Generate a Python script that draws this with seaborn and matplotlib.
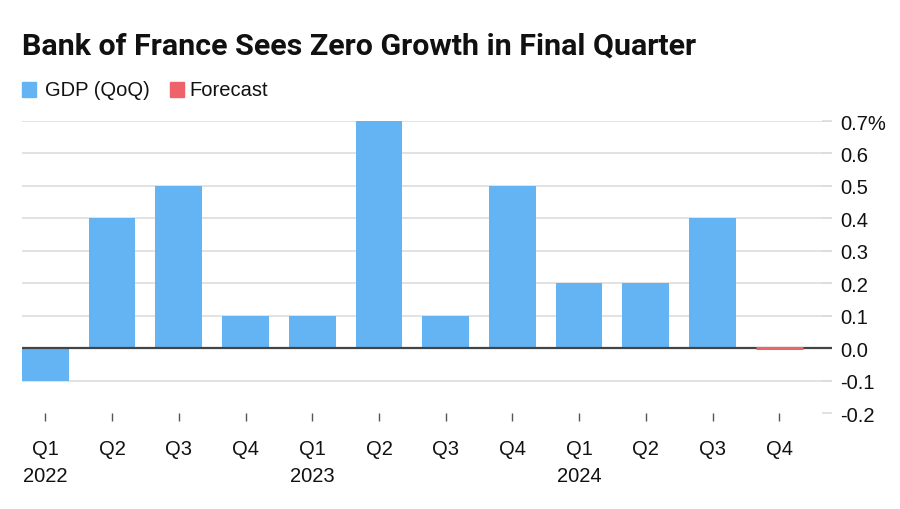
import matplotlib
matplotlib.use("Agg")
import matplotlib.pyplot as plt
import seaborn as sns
import pandas as pd
from matplotlib.patches import Rectangle

quarters = ["Q1", "Q2", "Q3", "Q4", "Q1", "Q2", "Q3", "Q4", "Q1", "Q2", "Q3", "Q4"]
years = ["2022", "", "", "", "2023", "", "", "", "2024", "", "", ""]
values = [-0.1, 0.4, 0.5, 0.1, 0.1, 0.7, 0.1, 0.5, 0.2, 0.2, 0.4, 0.0]
series = ["GDP (QoQ)"] * 11 + ["Forecast"]
yticks = [-0.2, -0.1, 0.0, 0.1, 0.2, 0.3, 0.4, 0.5, 0.6, 0.7]
ytick_labels = ["-0.2", "-0.1", "0.0", "0.1", "0.2", "0.3", "0.4", "0.5", "0.6", "0.7%"]

BLUE = "#64b4f4"
RED = "#ee626a"

sns.set_theme(style="white")
plt.rcParams["font.family"] = ["Liberation Sans", "DejaVu Sans"]

df = pd.DataFrame({
    "cat": [f"{q} {i}" for i, q in enumerate(quarters)],
    "value": values,
    "series": series,
})

fig = plt.figure(figsize=(9, 5.1), dpi=100)
ax = fig.add_axes([22 / 900, 1 - 414 / 510, 810 / 900, (414 - 122) / 510])

sns.barplot(data=df, x="cat", y="value", hue="series",
            palette={"GDP (QoQ)": BLUE, "Forecast": RED},
            dodge=False, width=0.7, ax=ax, legend=False, linewidth=0,
            saturation=1)

# forecast bar of zero height: outline it so it shows as a red segment
for patch, s in zip(ax.patches, df["series"]):
    if s == "Forecast":
        patch.set_edgecolor(RED)
        patch.set_linewidth(2.2)
        patch.set_zorder(4)

ax.set_xlim(-0.35, 11.79)
ax.set_ylim(-0.2, 0.7)
ax.axhline(0, color="#444444", lw=1.6, zorder=3)

ax.set_yticks(yticks)
ax.set_yticklabels(ytick_labels)
ax.yaxis.tick_right()
ax.yaxis.grid(True, color="#dddddd", lw=1.2)
ax.get_ygridlines()[0].set_visible(False)
ax.set_axisbelow(True)
ax.tick_params(axis="y", which="both", length=7, direction="in", color="#dddddd",
               pad=6, labelsize=14.5, labelcolor="#111111")

ax.set_xticks(range(len(quarters)))
ax.set_xticklabels([f"{q}\n{y}" if y else q for q, y in zip(quarters, years)],
                   linespacing=1.5, va="top")
ax.tick_params(axis="x", bottom=True, length=6, width=1.0, color="#555555", pad=13,
               labelsize=14.5, labelcolor="#111111", direction="out")
for t in ax.xaxis.get_major_ticks():
    t.tick1line.set_marker(matplotlib.markers.TICKDOWN)
for sp in ax.spines.values():
    sp.set_visible(False)
ax.set_xlabel("")
ax.set_ylabel("")

fig.text(22 / 900, 1 - 47 / 510, "Bank of France Sees Zero Growth in Final Quarter",
         fontsize=21.9, fontweight="bold", color="#111111", va="center", ha="left",
         family=["Roboto", "DejaVu Sans"])

# legend
fig.patches.append(Rectangle((22 / 900, 1 - 98 / 510), 14 / 900, 15 / 510,
                             transform=fig.transFigure, color=BLUE))
fig.text(45 / 900, 1 - 90 / 510, "GDP (QoQ)", fontsize=14.5, color="#111111",
         va="center", ha="left")
fig.patches.append(Rectangle((170 / 900, 1 - 98 / 510), 14 / 900, 15 / 510,
                             transform=fig.transFigure, color=RED))
fig.text(189 / 900, 1 - 90 / 510, "Forecast", fontsize=14.5, color="#111111",
         va="center", ha="left")

fig.savefig("out.png", dpi=100, facecolor="white")
